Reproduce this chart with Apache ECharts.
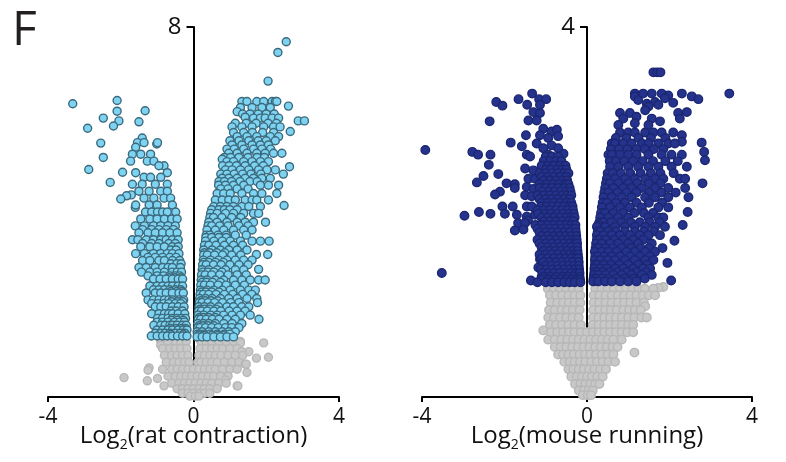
<!DOCTYPE html>
<html>
<head>
<meta charset="utf-8">
<script src="https://cdn.jsdelivr.net/npm/echarts@6/dist/echarts.min.js"></script>
<style>
  html, body { margin: 0; padding: 0; background: #fff; }
  #chart { width: 786px; height: 462px; }
</style>
</head>
<body>
<div id="chart"></div>
<script>
// ---- data: rows are [log10 p, log2 fc, log2 fc, ...] ----
const xTicks = [-4, 0, 4]

// rat contraction, up-regulated (right wing)
const ratUpRows = [
  [7.68, 2.55], [7.45, 2.32], [6.83, 2.05],
  [6.39, 1.33, 1.47, 1.74, 1.93, 2.16, 2.25, 2.29],
  [6.29, 2.61],
  [6.26, 1.29, 1.61, 1.88, 2.11],
  [6.17, 1.20],
  [6.12, 1.35, 1.55, 1.78, 2.0, 2.22],
  [6.05, 1.42],
  [6.03, 1.65, 1.84, 1.97, 2.16, 2.34],
  [5.97, 2.88, 3.05],
  [5.92, 1.15, 1.45, 1.72, 2.05, 2.28],
  [5.84, 1.06, 1.33, 1.61, 1.93, 2.20, 2.38],
  [5.74, 2.66],
  [5.72, 1.10, 1.38, 1.62, 1.90, 2.20],
  [5.63, 1.20, 1.47, 1.74, 2.11, 2.34],
  [5.54, 1.00, 1.25, 1.52, 1.78, 2.00, 2.25],
  [5.45, 1.06, 1.33, 1.61, 1.84, 2.06],
  [5.36, 0.92, 1.12, 1.38, 1.65, 1.88, 2.12],
  [5.27, 0.97, 1.20, 1.47, 1.74, 1.97, 2.20, 2.43],
  [5.18, 0.85, 1.02, 1.25, 1.50, 1.75, 1.95],
  [5.14, 0.79],
  [5.09, 0.92, 1.10, 1.38, 1.61, 1.84, 2.06],
  [5.00, 0.80, 0.98, 1.18, 1.42, 1.68, 1.92],
  [4.98, 2.64],
  [4.91, 0.88, 1.06, 1.29, 1.52, 1.79, 2.02, 2.25],
  [4.82, 0.75, 0.92, 1.12, 1.35, 1.58, 1.85, 2.47],
  [4.73, 0.79, 0.97, 1.20, 1.42, 1.65, 1.88, 2.11],
  [4.66, 0.70, 0.85, 1.05, 1.28, 1.55, 1.75],
  [4.58, 0.69, 0.88, 1.10, 1.38, 1.84, 2.06, 2.34],
  [4.50, 0.75, 0.95, 1.20, 1.50],
  [4.40, 0.65, 0.83, 1.01, 1.33, 1.65, 1.88, 2.29],
  [4.26, 0.60, 0.79, 0.97, 1.15, 1.42, 1.61, 1.74, 2.06],
  [4.14, 2.49],
  [4.12, 0.56, 0.74, 0.92, 1.10, 1.33, 1.52, 1.84],
  [4.05, 0.50, 0.70, 0.85, 1.00, 1.20],
  [3.97, 0.47, 0.65, 0.88, 1.10, 1.38, 1.65, 1.79],
  [3.88, 0.45, 0.55, 0.78, 1.05, 1.30],
  [3.78, 0.42, 0.65, 0.92, 1.20, 1.42, 1.65, 1.98],
  [3.70, 0.40, 0.50, 0.72, 0.95, 1.25, 1.50],
  [3.61, 0.37, 0.60, 0.83, 1.10, 1.38, 1.61],
  [3.50, 0.35, 0.45, 0.68, 0.90, 1.15, 1.45],
  [3.45, 0.34, 0.50, 0.70, 0.90],
  [3.37, 0.33, 0.56, 0.79, 1.01, 1.29, 1.61, 1.84, 2.08],
  [3.28, 0.30, 0.42, 0.62, 0.85, 1.10, 1.35],
  [3.18, 0.28, 0.51, 0.74, 0.97, 1.20, 1.47],
  [3.12, 0.30, 0.45, 0.64, 0.86],
  [3.08, 1.73, 2.04],
  [3.07, 0.28, 0.38, 0.58, 0.80, 1.05, 1.30],
  [2.96, 0.27, 0.47, 0.69, 0.92, 1.15, 1.38, 1.61],
  [2.91, 0.28, 0.42, 0.60, 0.82],
  [2.86, 0.25, 0.35, 0.55, 0.76, 1.00, 1.25, 1.50],
  [2.76, 1.79],
  [2.75, 0.24, 0.42, 0.65, 0.88, 1.15, 1.38],
  [2.70, 0.26, 0.40, 0.56, 0.78],
  [2.64, 0.22, 0.32, 0.50, 0.72, 0.95, 1.20, 1.45],
  [2.53, 0.21, 0.37, 0.60, 0.83, 1.10, 1.33, 1.56, 1.79, 1.97],
  [2.48, 0.24, 0.36, 0.52, 0.74],
  [2.42, 0.20, 0.30, 0.46, 0.68, 0.90, 1.15, 1.40],
  [2.31, 0.19, 0.37, 0.56, 0.79, 1.01, 1.29, 1.52, 1.70],
  [2.27, 0.22, 0.34, 0.50, 0.70],
  [2.22, 0.18, 0.27, 0.42, 0.62, 0.85, 1.08, 1.35, 1.60],
  [2.13, 0.17, 0.33, 0.51, 0.74, 0.97, 1.20, 1.47, 1.74],
  [2.08, 0.20, 0.32, 0.48, 0.66],
  [2.04, 0.16, 0.24, 0.40, 0.58, 0.80, 1.02, 1.25, 1.76],
  [1.95, 0.15, 0.30, 0.47, 0.69, 0.92, 1.10, 1.33, 1.52],
  [1.90, 0.18, 0.30, 0.44, 0.62],
  [1.86, 0.14, 0.22, 0.38, 0.56, 0.75, 0.98, 1.20, 1.42],
  [1.77, 0.13, 0.28, 0.47, 0.65, 0.83, 1.06, 1.29, 1.56],
  [1.72, 0.16, 0.28, 0.42, 0.60],
  [1.68, 0.13, 0.20, 0.35, 0.52, 0.70, 0.92, 1.15, 1.80],
  [1.59, 0.12, 0.27, 0.42, 0.60, 0.83, 1.06, 1.33],
  [1.54, 0.15, 0.26, 0.40, 0.56],
  [1.50, 0.12, 0.18, 0.33, 0.50, 0.68, 0.88, 1.05, 1.25],
  [1.41, 0.10, 0.24, 0.42, 0.60, 0.79, 0.97, 1.15],
  [1.36, 0.11, 0.17, 0.30, 0.46, 0.65, 0.85, 1.00],
  [1.33, 0.14, 0.30, 0.50, 0.66, 0.82],
  [1.30, 0.10, 0.24, 0.37, 0.56, 0.74, 0.92, 1.10]
]

// rat contraction, down-regulated (left wing)
const ratDownRows = [
  [6.41, -2.10], [6.34, -3.32], [6.19, -1.33], [6.18, -2.10], [6.03, -2.48],
  [5.97, -2.05], [5.95, -1.50], [5.86, -2.20], [5.81, -2.91], [5.49, -2.55],
  [5.47, -1.01], [5.18, -2.48], [4.92, -2.88], [4.86, -1.95], [4.64, -2.29],
  [4.37, -1.71], [4.35, -1.84], [4.28, -2.00], [4.10, -1.60],
  [5.60, -1.41],
  [5.50, -1.54, -1.36, -0.99],
  [5.40, -1.59],
  [5.25, -1.68, -1.45, -1.18],
  [5.10, -1.73, -1.27, -1.09],
  [5.00, -0.81, -0.95],
  [4.85, -1.59, -0.72],
  [4.75, -1.36, -1.18, -0.90],
  [4.60, -1.68, -1.41, -1.05, -0.72],
  [4.45, -1.50, -1.22, -0.90, -0.72],
  [4.30, -1.36, -1.09, -0.81, -0.63],
  [4.15, -1.59, -1.22, -1.00, -0.58],
  [4.00, -1.32, -1.15, -0.99, -0.85, -0.72, -0.49],
  [3.85, -1.45, -1.20, -1.00, -0.80, -0.60, -0.45],
  [3.70, -1.60, -1.35, -1.10, -0.90, -0.70, -0.50],
  [3.62, -1.40, -1.15, -0.95, -0.75, -0.55],
  [3.55, -1.50, -1.25, -1.05, -0.85, -0.65, -0.45],
  [3.40, -1.68, -1.53, -1.30, -1.10, -0.90, -0.75, -0.58, -0.42],
  [3.32, -1.40, -1.15, -0.95, -0.68, -0.50],
  [3.25, -1.45, -1.20, -1.00, -0.80, -0.58, -0.42],
  [3.18, -0.62, -0.48],
  [3.10, -1.59, -1.35, -1.10, -0.90, -0.72, -0.58, -0.40],
  [3.02, -1.25, -1.05, -0.85, -0.65, -0.48],
  [2.95, -1.40, -1.20, -0.95, -0.80, -0.58, -0.38],
  [2.88, -0.62, -0.46, -0.34],
  [2.80, -1.50, -1.30, -1.05, -0.85, -0.70, -0.58, -0.36],
  [2.70, -1.43, -1.20, -1.00, -0.80, -0.58, -0.45, -0.33],
  [2.62, -1.25, -1.00, -0.82, -0.65, -0.50, -0.38],
  [2.58, -0.66, -0.52, -0.36],
  [2.55, -1.10, -0.92, -0.75, -0.58, -0.42, -0.30],
  [2.40, -1.20, -1.00, -0.85, -0.70, -0.58, -0.42, -0.30],
  [2.32, -1.10, -0.95, -0.80, -0.65, -0.50, -0.35],
  [2.28, -0.62, -0.46, -0.32],
  [2.25, -1.30, -1.05, -0.90, -0.75, -0.58, -0.40, -0.28],
  [2.10, -1.25, -1.10, -0.95, -0.80, -0.68, -0.58, -0.40, -0.27],
  [2.06, -0.60, -0.44, -0.30],
  [2.02, -1.15, -0.98, -0.82, -0.68, -0.50, -0.35],
  [1.95, -1.05, -0.90, -0.75, -0.58, -0.42, -0.26],
  [1.86, -0.62, -0.48, -0.30],
  [1.80, -1.15, -0.95, -0.80, -0.68, -0.58, -0.42, -0.24],
  [1.70, -0.99, -0.85, -0.70, -0.58, -0.45, -0.32, -0.22],
  [1.66, -0.60, -0.44, -0.28],
  [1.62, -1.00, -0.85, -0.70, -0.52, -0.38, -0.25],
  [1.55, -1.09, -0.90, -0.78, -0.65, -0.58, -0.45, -0.30, -0.20],
  [1.48, -0.64, -0.48, -0.34, -0.22],
  [1.45, -1.00, -0.85, -0.70, -0.58, -0.42, -0.28, -0.18],
  [1.38, -1.05, -0.90, -0.78, -0.65, -0.50, -0.36, -0.24],
  [1.35, -0.62, -0.28],
  [1.32, -1.16, -1.00, -0.85, -0.72, -0.58, -0.44, -0.30, -0.18]
]

// rat contraction, not significant
const ratGrayRows = [
  [1.20, -0.90, -0.70, -0.50, -0.35, -0.20, 0.20, 0.35, 0.50, 0.70, 0.90, 1.10, 1.29],
  [1.17, 1.93, 1.29],
  [1.12, -0.90],
  [1.05, -0.85, -0.65, -0.50, -0.35, -0.18, 0.18, 0.35, 0.50, 0.65, 0.80, 1.00, 1.20],
  [0.98, 1.52, 1.33],
  [0.90, -0.80, -0.60, -0.45, -0.30, -0.15, 0.15, 0.30, 0.45, 0.60, 0.75, 0.95, 1.15, 1.35],
  [0.86, 2.06], [0.84, 1.73],
  [0.75, -0.75, -0.55, -0.40, -0.25, -0.12, 0.12, 0.20, 0.35, 0.50, 0.65, 0.85, 1.05, 1.25],
  [0.71, 1.42, 1.45],
  [0.63, -1.22],
  [0.60, -0.85, -0.60, -0.45, -0.30, -0.15, 0.00, 0.15, 0.30, 0.45, 0.60, 0.80, 1.00, 1.20],
  [0.58, -1.25],
  [0.53, 1.47],
  [0.45, -0.70, -0.50, -0.35, -0.20, -0.05, 0.10, 0.25, 0.40, 0.55, 0.75, 0.95],
  [0.42, -1.91],
  [0.40, -0.99],
  [0.37, 0.88],
  [0.35, -1.27],
  [0.30, -0.60, -0.40, -0.25, -0.10, 0.05, 0.20, 0.35, 0.50, 0.70, 0.90],
  [0.24, -0.81, 1.20, 1.22],
  [0.18, -0.45, -0.30, -0.15, 0.00, 0.15, 0.30, 0.45, 0.65],
  [0.08, -0.30, -0.15, 0.00, 0.15, 0.30, 0.45],
  [0.02, -0.10, 0.05, 0.15]
]

// mouse running, up-regulated
const mouseUpRows = [
  [3.51, 1.61, 1.70, 1.78],
  [3.28, 1.16, 1.36, 1.57, 1.81, 2.30, 3.45],
  [3.26, 1.97], [3.25, 1.16, 2.54], [3.23, 1.89], [3.22, 2.70], [3.21, 1.24],
  [3.19, 1.65], [3.18, 2.09], [3.17, 1.45], [3.16, 1.73], [3.14, 1.49],
  [3.10, 1.41], [3.08, 2.42], [3.07, 0.80, 1.04, 2.21], [3.03, 1.20],
  [3.01, 0.88, 1.57, 2.25], [2.98, 1.77], [2.96, 1.16], [2.94, 0.76, 1.49],
  [2.86, 0.80, 1.00, 1.16, 1.41, 1.61, 1.81, 2.09],
  [2.83, 2.30],
  [2.80, 0.70, 0.95, 1.25, 1.55, 1.90],
  [2.76, 2.30], [2.75, 2.78],
  [2.74, 0.60, 0.68, 0.88, 1.08, 1.33, 1.49, 1.73, 1.97, 2.13],
  [2.68, 0.58, 0.78, 0.98, 1.20, 1.40, 1.62, 1.85],
  [2.65, 2.84],
  [2.62, 0.52, 0.60, 0.80, 1.00, 1.20, 1.49, 1.81, 2.05, 2.30],
  [2.56, 2.86],
  [2.55, 0.55, 0.70, 0.90, 1.12, 1.35, 1.60, 1.90, 2.20],
  [2.49, 0.56, 0.76, 1.00, 1.24, 1.49, 1.73, 2.05, 2.42],
  [2.42, 0.50, 0.62, 0.82, 1.05, 1.30, 1.55, 1.78, 2.10],
  [2.36, 0.48, 0.68, 0.92, 1.16, 1.41, 1.65, 1.85, 2.25, 2.38],
  [2.31, 0.46, 0.56, 0.76, 1.00, 1.22, 1.50, 1.78, 2.80],
  [2.26, 0.44, 0.64, 0.88, 1.08, 1.33, 1.65, 1.97, 2.38],
  [2.21, 0.42, 0.52, 0.74, 0.96, 1.20, 1.50, 1.80, 2.15],
  [2.16, 0.40, 0.60, 0.84, 1.08, 1.41, 1.65, 1.97, 2.46],
  [2.10, 0.38, 0.48, 0.70, 0.92, 1.20, 1.50, 1.82],
  [2.05, 0.36, 0.56, 0.80, 1.04, 1.33, 1.73, 1.97],
  [2.00, 2.44],
  [1.99, 0.34, 0.44, 0.64, 0.88, 1.15, 1.38, 1.60],
  [1.94, 0.32, 0.52, 0.76, 1.00, 1.49, 1.73, 1.85],
  [1.89, 0.30, 0.40, 0.58, 0.82, 1.06, 1.28, 1.52, 1.76],
  [1.86, 0.27, 2.32],
  [1.84, 0.24, 0.44, 0.68, 0.92, 1.16, 1.41, 1.65, 1.89],
  [1.79, 0.26, 0.32, 0.50, 0.70, 0.92, 1.16, 1.38, 1.62],
  [1.75, 0.24, 0.40, 0.60, 0.80, 1.04, 1.28, 1.49, 1.77],
  [1.70, 0.24, 0.30, 0.46, 0.66, 0.88, 1.12, 1.36],
  [1.69, 2.12],
  [1.66, 0.22, 0.36, 0.56, 0.76, 1.00, 1.24, 1.57],
  [1.61, 0.21, 0.28, 0.44, 0.62, 0.84, 1.06, 1.30, 1.50, 1.83],
  [1.57, 0.19, 0.36, 0.52, 0.72, 0.96, 1.16, 1.41, 1.65],
  [1.52, 0.20, 0.26, 0.42, 0.60, 0.80, 1.04, 1.28, 1.52],
  [1.48, 0.19, 0.32, 0.50, 0.68, 0.92, 1.16, 1.41, 1.61],
  [1.45, 1.95],
  [1.43, 0.19, 0.25, 0.40, 0.58, 0.78, 1.00, 1.24, 1.46],
  [1.39, 0.18, 0.32, 0.48, 0.68, 0.88, 1.12, 1.36, 1.53],
  [1.35, 0.18, 0.24, 0.38, 0.55, 0.74, 0.96, 1.20, 1.44],
  [1.32, 0.17, 0.29, 0.45, 0.64, 0.84, 1.08, 1.33, 1.57],
  [1.28, 0.16, 0.22, 0.36, 0.52, 0.72, 0.92, 1.12, 1.40],
  [1.26, 2.04],
  [1.25, 0.15, 0.27, 0.44, 0.60, 0.80, 1.00, 1.20]
]

// mouse running, down-regulated
const mouseDownRows = [
  [2.67, -3.92], [1.34, -3.52], [2.65, -2.78], [2.62, -2.64, -2.34], [2.98, -2.36],
  [3.19, -2.20], [3.15, -2.05], [3.22, -1.66, -1.16, -0.99], [3.28, -1.33],
  [3.16, -1.45, -1.14], [3.08, -1.30], [3.07, -1.14], [2.99, -1.42, -1.22],
  [2.90, -1.06], [2.87, -0.86], [2.89, -0.73], [2.83, -1.14, -1.48], [2.80, -0.94],
  [2.82, -0.70], [2.75, -1.85], [2.74, -1.22], [2.71, -1.58], [2.72, -0.86],
  [2.69, -1.06, -0.70], [2.63, -0.57], [2.62, -0.94, -1.46], [2.60, -1.38],
  [2.51, -2.38], [2.47, -1.50], [2.45, -1.30], [2.41, -2.15], [2.39, -2.51],
  [2.36, -1.42, -1.26], [2.32, -2.67], [2.31, -1.95], [2.30, -1.75],
  [2.27, -1.46], [2.26, -1.75], [2.25, -1.30], [2.22, -2.11], [2.19, -2.23],
  [2.18, -1.50], [2.17, -1.34], [2.06, -2.05, -1.80, -1.46, -1.34],
  [2.00, -2.62], [1.98, -2.34, -1.99], [1.97, -1.70, -1.26], [1.96, -2.97],
  [1.95, -1.46], [1.91, -1.43], [1.88, -1.67, -1.50, -1.02], [1.81, -1.54],
  [1.80, -1.75], [1.73, -1.06], [1.59, -1.06], [1.49, -1.14], [1.40, -1.18],
  [1.30, -1.10], [1.26, -1.36],
  [2.60, -1.00, -0.85, -0.70],
  [2.55, -1.05, -0.90, -0.75, -0.62],
  [2.50, -1.10, -0.95, -0.80, -0.65, -0.52],
  [2.46, -1.00, -0.88, -0.72, -0.60, -0.50],
  [2.42, -1.15, -1.00, -0.85, -0.70, -0.55, -0.45],
  [2.38, -1.10, -0.95, -0.80, -0.65, -0.50],
  [2.34, -1.05, -0.90, -0.75, -0.60, -0.48],
  [2.30, -1.15, -0.98, -0.82, -0.68, -0.52, -0.45],
  [2.26, -1.15, -1.00, -0.85, -0.70, -0.55, -0.42],
  [2.22, -1.08, -0.92, -0.78, -0.64, -0.50, -0.40],
  [2.18, -1.20, -1.05, -0.90, -0.75, -0.60, -0.48, -0.38],
  [2.14, -1.15, -1.00, -0.85, -0.70, -0.55, -0.42],
  [2.10, -1.10, -0.95, -0.80, -0.65, -0.50, -0.38],
  [2.06, -1.12, -0.98, -0.84, -0.70, -0.56, -0.42, -0.35],
  [2.02, -1.20, -1.05, -0.90, -0.75, -0.60, -0.47, -0.34],
  [1.98, -1.18, -1.02, -0.88, -0.72, -0.58, -0.44, -0.32],
  [1.94, -1.10, -0.95, -0.80, -0.65, -0.50, -0.38, -0.30],
  [1.90, -1.05, -0.90, -0.75, -0.60, -0.45, -0.33],
  [1.86, -1.25, -1.10, -0.95, -0.80, -0.65, -0.50, -0.38, -0.28],
  [1.82, -1.20, -1.05, -0.90, -0.76, -0.62, -0.48, -0.35, -0.28],
  [1.78, -1.15, -1.00, -0.85, -0.70, -0.55, -0.42, -0.27],
  [1.74, -1.10, -0.95, -0.80, -0.66, -0.52, -0.38, -0.26],
  [1.70, -1.20, -1.05, -0.90, -0.75, -0.60, -0.46, -0.34, -0.25],
  [1.66, -1.15, -1.00, -0.85, -0.70, -0.56, -0.42, -0.30, -0.24],
  [1.62, -1.10, -0.95, -0.80, -0.65, -0.50, -0.38, -0.24],
  [1.58, -1.05, -0.90, -0.76, -0.62, -0.48, -0.34, -0.23],
  [1.54, -1.15, -1.00, -0.85, -0.70, -0.55, -0.42, -0.30, -0.22],
  [1.50, -1.10, -0.95, -0.80, -0.66, -0.52, -0.38, -0.26, -0.21],
  [1.46, -1.05, -0.90, -0.75, -0.60, -0.46, -0.34, -0.20],
  [1.42, -1.00, -0.86, -0.72, -0.58, -0.44, -0.32, -0.20],
  [1.38, -1.12, -0.98, -0.84, -0.70, -0.55, -0.42, -0.30, -0.19],
  [1.34, -1.08, -0.94, -0.80, -0.66, -0.52, -0.38, -0.26, -0.18],
  [1.30, -1.05, -0.90, -0.75, -0.60, -0.46, -0.33, -0.18],
  [1.27, -1.10, -0.95, -0.80, -0.65, -0.50, -0.36, -0.24, -0.17],
  [1.24, -1.20, -1.00, -0.85, -0.70, -0.55, -0.42, -0.30, -0.16]
]

// mouse running, not significant
const mouseGrayRows = [
  [1.19, 1.85], [1.18, 1.73],
  [1.17, -0.95, -0.80, -0.65, -0.50, -0.35, -0.20, 0.20, 0.35, 0.50, 0.65, 0.80, 0.95, 1.10, 1.25, 1.40, 1.61],
  [1.10, -0.90, -0.75, -0.60, -0.45, -0.30, -0.16, 0.16, 0.30, 0.45, 0.60, 0.75, 0.90, 1.05, 1.20, 1.35, 1.50, 1.65],
  [1.02, -0.88, -0.72, -0.58, -0.44, -0.30, -0.16, 0.16, 0.30, 0.45, 0.60, 0.75, 0.90, 1.05, 1.20, 1.38],
  [0.98, 1.41],
  [0.94, -0.92, -0.78, -0.62, -0.48, -0.34, -0.18, 0.15, 0.30, 0.44, 0.58, 0.72, 0.88, 1.02, 1.16, 1.30],
  [0.86, -0.94, -0.80, -0.65, -0.50, -0.35, -0.20, 0.15, 0.28, 0.42, 0.56, 0.70, 0.85, 1.00, 1.15, 1.32, 1.45],
  [0.78, -0.90, -0.75, -0.60, -0.45, -0.30, -0.15, 0.14, 0.28, 0.42, 0.56, 0.70, 0.85, 1.00, 1.12],
  [0.72, -1.06],
  [0.70, -0.88, -0.72, -0.58, -0.44, -0.30, -0.15, 0.00, 0.14, 0.28, 0.42, 0.56, 0.70, 0.84, 0.98, 1.12],
  [0.62, -0.94, -0.78, -0.62, -0.48, -0.34, -0.20, -0.06, 0.08, 0.22, 0.36, 0.50, 0.64, 0.84],
  [0.54, -0.78, -0.64, -0.50, -0.36, -0.22, -0.08, 0.06, 0.20, 0.34, 0.48, 0.62, 0.74],
  [0.48, 1.15],
  [0.46, -0.70, -0.58, -0.45, -0.32, -0.18, -0.05, 0.08, 0.22, 0.36, 0.50, 0.64],
  [0.38, -0.55, -0.42, -0.30, -0.17, -0.04, 0.10, 0.24, 0.38, 0.52, 0.68],
  [0.30, -0.45, -0.33, -0.20, -0.08, 0.05, 0.18, 0.32, 0.46],
  [0.22, -0.38, -0.25, -0.12, 0.00, 0.12, 0.25, 0.38],
  [0.14, -0.29, -0.16, -0.04, 0.08, 0.20, 0.30],
  [0.07, -0.20, -0.08, 0.04, 0.14],
  [0.02, -0.10, 0.02, 0.10]
]

// 行数据展开成 [x, y] 点
function toPoints(rows) {
  const pts = []
  rows.forEach(r => {
    for (let i = 1; i < r.length; i++) pts.push([r[i], r[0]])
  })
  return pts
}

const FONT = 'Open Sans'
const grids = [
  { left: 48, top: 27, width: 291, height: 370, outerBoundsMode: 'none' },
  { left: 422, top: 27, width: 330, height: 370, outerBoundsMode: 'none' }
]
const chart = echarts.init(document.getElementById('chart'), null, { renderer: 'canvas' })

function xAxisOf(gridIndex, title) {
  return {
    gridIndex: gridIndex,
    type: 'value',
    min: xTicks[0],
    max: xTicks[xTicks.length - 1],
    interval: 4,
    splitLine: { show: false },
    axisLine: { onZero: false, lineStyle: { color: '#000', width: 2 } },
    axisTick: { length: 5, lineStyle: { color: '#000', width: 2 } },
    axisLabel: { color: '#111', fontSize: 21, fontFamily: FONT, margin: 10 },
    name: '{a|Log}{b|2}{a|(' + title + ')}',
    nameLocation: 'middle',
    nameGap: 23,
    nameMoveOverlap: false,
    nameTextStyle: {
      rich: {
        a: { fontSize: 24, fontFamily: FONT, color: '#111', lineHeight: 32 },
        b: { fontSize: 14, fontFamily: FONT, color: '#111', lineHeight: 14, verticalAlign: 'bottom' }
      }
    }
  }
}

// y 轴放在 x = 0 处：向内偏移半个网格宽度
function yAxisOf(gridIndex, top) {
  return {
    gridIndex: gridIndex,
    type: 'value',
    position: 'left',
    offset: -grids[gridIndex].width / 2,
    min: 0,
    max: top,
    interval: top,
    splitLine: { show: false },
    axisLine: { onZero: false, lineStyle: { color: '#000', width: 2 } },
    axisTick: { length: 7, lineStyle: { color: '#000', width: 2 } },
    axisLabel: {
      color: '#111', fontSize: 24, fontFamily: FONT, margin: 12,
      formatter: v => (v === top ? String(top) : '')
    }
  }
}

function scatter(name, idx, rows, fill, border, size) {
  return {
    name: name,
    type: 'scatter',
    xAxisIndex: idx,
    yAxisIndex: idx,
    symbolSize: size,
    data: toPoints(rows),
    itemStyle: { color: fill, borderColor: border, borderWidth: 1.4, opacity: 1 },
    emphasis: { disabled: true }
  }
}

const option = {
  animation: false,
  backgroundColor: '#fff',
  graphic: [{
    type: 'text', left: 12, top: 7,
    style: { text: 'F', fontSize: 48, fontFamily: FONT, fill: '#231f20' }
  }],
  grid: grids,
  xAxis: [xAxisOf(0, 'rat contraction'), xAxisOf(1, 'mouse running')],
  yAxis: [yAxisOf(0, 8), yAxisOf(1, 4)],
  series: [
    scatter('rat ns', 0, ratGrayRows, '#c8c8c8', '#b7b7b7', 8),
    scatter('rat down', 0, ratDownRows, '#7dd3f1', '#3b6a7d', 8),
    scatter('rat up', 0, ratUpRows, '#7dd3f1', '#3b6a7d', 8),
    scatter('mouse ns', 1, mouseGrayRows, '#c8c8c8', '#b7b7b7', 8.5),
    scatter('mouse down', 1, mouseDownRows, '#25338d', '#1b2772', 8.5),
    scatter('mouse up', 1, mouseUpRows, '#25338d', '#1b2772', 8.5)
  ]
}

chart.setOption(option)
</script>
</body>
</html>
